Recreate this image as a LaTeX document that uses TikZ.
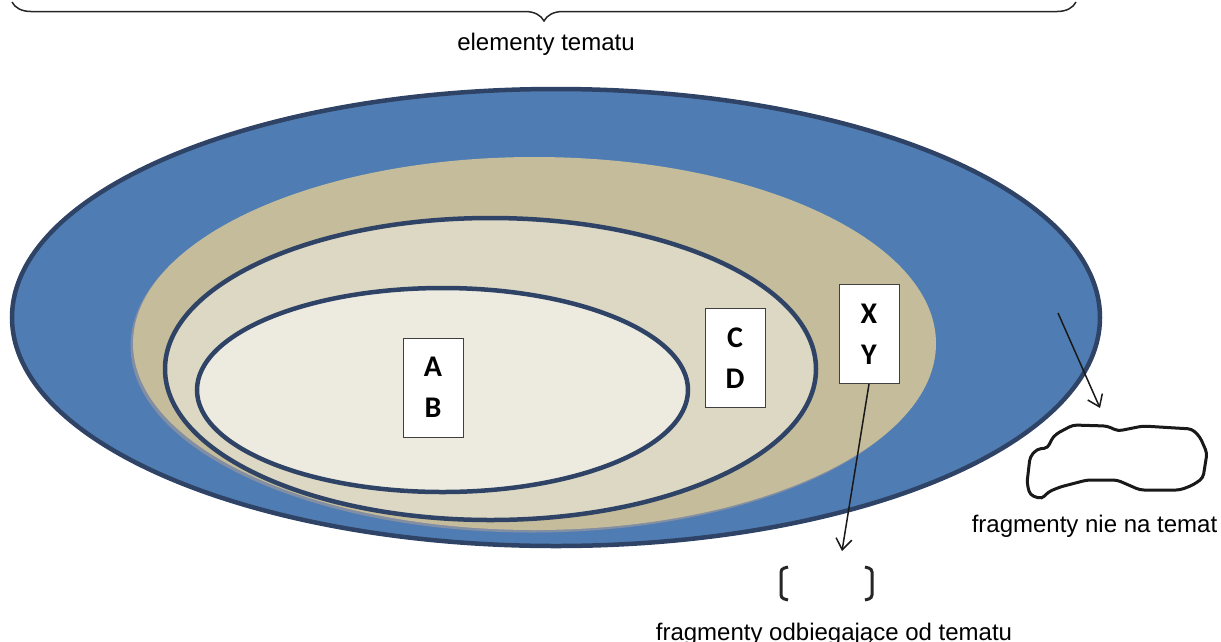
\documentclass[tikz,border=0pt]{standalone}
\usepackage{fontspec}
\setmainfont{Liberation Sans}
\newfontfamily\boxfont{Carlito}
\usepackage{xcolor}
\usepackage{tikz}
\usetikzlibrary{arrows.meta,positioning,shapes.geometric,decorations.pathreplacing}

\definecolor{ringblue}{RGB}{79,125,179}
\definecolor{ringline}{RGB}{46,67,102}
\definecolor{tandark}{RGB}{196,188,154}
\definecolor{tanmid}{RGB}{221,216,196}
\definecolor{tanlight}{RGB}{237,235,224}

\begin{document}
\begin{tikzpicture}[
  x=1pt, y=-1pt,
  ring/.style={ellipse, draw=ringline, line width=4.5pt, inner sep=0pt},
  card/.style={draw=black!75, fill=white, line width=1pt, minimum width=60pt,
    minimum height=99pt, align=center, font=\boxfont\bfseries\fontsize{30}{41}\selectfont},
  caption/.style={font=\fontsize{24}{28}\selectfont, anchor=base},
  arrow/.style={-{Straight Barb[length=11pt,width=16pt]}, line width=1.5pt, black!90},
  bracket/.style={line width=3pt, rounded corners=3pt, black!85}
]
\useasboundingbox (0,0) rectangle (1221,641);

% rings
\node[ring, fill=ringblue, minimum width=1088pt, minimum height=457pt] (outer) at (556,317.5) {};
\node[ellipse, fill=ringline!60, minimum width=803pt, minimum height=373pt, inner sep=0pt] (shade) at (532,346) {};
\node[ellipse, fill=tandark, minimum width=803pt, minimum height=373pt, inner sep=0pt] (topic) at (534.5,343.5) {};
\node[ring, fill=tanmid, minimum width=651pt, minimum height=302pt] (middle) at (490.5,369) {};
\node[ring, fill=tanlight, minimum width=491pt, minimum height=204pt] (inner) at (442.5,390) {};

% cards
\node[card] (ab) at (433,387.5) {A\\B};
\node[card] (cd) at (735,358) {C\\D};
\node[card] (xy) at (869,334) {X\\Y};

% brace
\draw[decorate, decoration={brace, amplitude=19pt}, line width=1.5pt, black!85]
  (1076,2) -- (12,2) coordinate[pos=0.5] (bracemid);
\node[caption] (themes) at (546,50) {elementy tematu};

% off topic
\draw[line width=3pt, black!90, rounded corners=4pt]
  (1073,425) -- (1107,426) -- (1118,431) -- (1143,426) -- (1192,429) -- (1200,437)
  -- (1207,453) -- (1203,478) -- (1193,485) -- (1180,490) -- (1140,490) -- (1117,480)
  -- (1087,480) -- (1060,487) -- (1048,492) -- (1042,499) -- (1030,495) -- (1027,483)
  -- (1030,457) -- (1037,449) -- (1048,448) -- (1051,440) -- (1056,434) -- cycle;
\coordinate (blobtop) at (1100,408);
\coordinate (bluespot) at (1058,313);
\draw[arrow] (bluespot) -- (blobtop);
\node[caption] (offtopic) at (1094.5,532) {fragmenty nie na temat};

% digressions
\draw[bracket] (788,567) -- (781,569) -- (781,598) -- (788,600);
\draw[bracket] (865,567) -- (872,569) -- (872,598) -- (865,600);
\coordinate (gap) at (842,551);
\draw[arrow] (xy.south) -- (gap);
\node[caption] (digress) at (834,640) {fragmenty odbiegające od tematu};
\end{tikzpicture}
\end{document}
